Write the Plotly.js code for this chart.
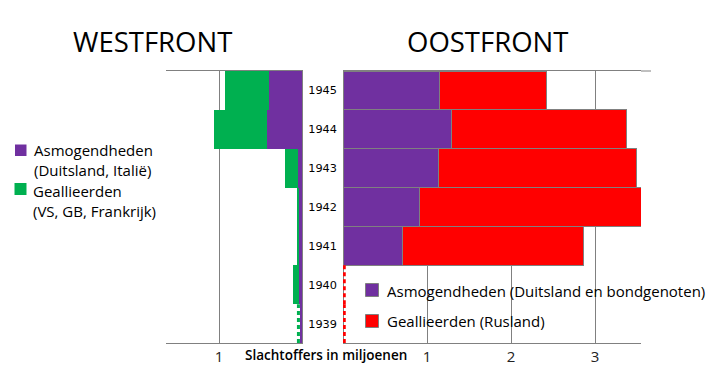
<!DOCTYPE html>
<html>
<head>
<meta charset="utf-8">
<script src="https://cdn.plot.ly/plotly-3.0.1.min.js"></script>
<style>html,body{margin:0;padding:0;background:#fff;}#chart{width:719px;height:376px;}</style>
</head>
<body>
<div id="chart"></div>
<script>
// ---- data (casualties in millions) ----
const years = [1939, 1940, 1941, 1942, 1943, 1944, 1945];
const westAxis   = [0.025, 0.035, 0.035, 0.035, 0.05, 0.42, 0.40];
const westAllies = [0,     0.075, 0.025, 0.025, 0.15, 0.64, 0.53];
const eastAxis   = [0, 0, 0.71, 0.91, 1.14, 1.29, 1.15];
const eastAllies = [0, 0, 2.15, 2.65, 2.35, 2.08, 1.27];
// very small / uncertain values shown as dashed lines
const westAlliesDashedYears = [1939];
const westAlliesDashedValue = [0.018];
const eastAlliesDashedYears = [1939, 1940];
const eastAlliesDashedValue = [0.015, 0.015];

const westTickVals = [1];
const eastTickVals = [1, 2, 3];
const titleWest = "WESTFRONT";
const titleEast = "OOSTFRONT";
const xTitle = "Slachtoffers in miljoenen";
const legWestAxis = "Asmogendheden<br>(Duitsland, Italië)";
const legWestAllies = "Geallieerden<br>(VS, GB, Frankrijk)";
const legEastAxis = "Asmogendheden (Duitsland en bondgenoten)";
const legEastAllies = "Geallieerden (Rusland)";

// ---- styles ----
const PURPLE = "#7030a0", GREEN = "#00b050", RED = "#ff0000", GRAY = "#808080";
const W = 719, H = 376;
const px = x => x / W, py = y => 1 - y / H;
const FONT = "Open Sans, sans-serif";

function dashedSegments(dYears, dVals, baseArr) {
  const xs = [], ys = [];
  dYears.forEach((yr, k) => {
    const i = years.indexOf(yr);
    const xv = (baseArr ? baseArr[i] : 0) + dVals[k];
    xs.push(xv, xv, null);
    ys.push(yr - 0.5, yr + 0.5, null);
  });
  return {xs, ys};
}
const wd = dashedSegments(westAlliesDashedYears, westAlliesDashedValue, westAxis);
const ed = dashedSegments(eastAlliesDashedYears, eastAlliesDashedValue, null);

const traces = [
  {type: "bar", orientation: "h", x: westAxis, y: years, xaxis: "x", yaxis: "y",
   marker: {color: PURPLE, line: {width: 0}}, hoverinfo: "x+y"},
  {type: "bar", orientation: "h", x: westAllies, y: years, xaxis: "x", yaxis: "y",
   marker: {color: GREEN, line: {width: 0}}, hoverinfo: "x+y"},
  {type: "bar", orientation: "h", x: eastAxis, y: years, xaxis: "x2", yaxis: "y2",
   marker: {color: PURPLE, line: {width: 1, color: GRAY}}, hoverinfo: "x+y"},
  {type: "bar", orientation: "h", x: eastAllies, y: years, xaxis: "x2", yaxis: "y2",
   marker: {color: RED, line: {width: 1, color: GRAY}}, hoverinfo: "x+y"},
  {type: "scatter", mode: "lines", x: wd.xs, y: wd.ys, xaxis: "x", yaxis: "y",
   line: {color: GREEN, width: 3, dash: "4px,3px"}, hoverinfo: "skip"},
  {type: "scatter", mode: "lines", x: ed.xs, y: ed.ys, xaxis: "x2", yaxis: "y2",
   line: {color: RED, width: 3, dash: "4px,3px"}, hoverinfo: "skip"}
];

const yDom = [py(343), py(71)];
const yRange = [years[0] - 0.5, years[years.length - 1] + 0.5];
const tickFont = {family: FONT, size: 15, color: "#222"};

const layout = {
  width: W, height: H,
  margin: {l: 0, r: 0, t: 0, b: 0},
  paper_bgcolor: "#fff", plot_bgcolor: "rgba(0,0,0,0)",
  showlegend: false,
  barmode: "stack", bargap: 0,
  font: {family: FONT, color: "#000"},
  xaxis: {domain: [px(166), px(302)], range: [(302 - 166) / 83, 0], anchor: "y",
          tickvals: westTickVals, showgrid: true, gridcolor: GRAY, gridwidth: 1,
          zeroline: false, showline: true, mirror: true, linecolor: GRAY, linewidth: 1,
          ticks: "", tickfont: tickFont, fixedrange: true},
  yaxis: {domain: yDom, range: yRange, anchor: "x", side: "right",
          tickvals: years, ticktext: years.map(String), ticks: "", ticklabelstandoff: 3,
          tickfont: {family: "DejaVu Sans, sans-serif", size: 11.3, color: "#000"},
          showgrid: false, zeroline: false, showline: true, linecolor: GRAY, linewidth: 1,
          fixedrange: true},
  xaxis2: {domain: [px(343), px(641)], range: [0, (641 - 343) / 84], anchor: "y2",
          tickvals: eastTickVals, showgrid: true, gridcolor: GRAY, gridwidth: 1,
          zeroline: false, showline: true, mirror: true, linecolor: GRAY, linewidth: 1,
          ticks: "", tickfont: tickFont, fixedrange: true},
  yaxis2: {domain: yDom, range: yRange, anchor: "x2", showticklabels: false,
          showgrid: false, zeroline: false, showline: false, fixedrange: true},
  shapes: [
    // top border of right panel extends a bit further
    {type: "line", xref: "paper", yref: "paper", x0: px(641), x1: px(651), y0: py(71), y1: py(71),
     line: {color: GRAY, width: 1}},
    // legend swatches
    {type: "rect", xref: "paper", yref: "paper", x0: px(15), x1: px(26.5), y0: py(156), y1: py(144.5),
     fillcolor: PURPLE, line: {width: 0}},
    {type: "rect", xref: "paper", yref: "paper", x0: px(14.5), x1: px(26.5), y0: py(195), y1: py(183),
     fillcolor: GREEN, line: {width: 0}},
    {type: "rect", xref: "paper", yref: "paper", x0: px(365.5), x1: px(378.5), y0: py(296.5), y1: py(283.5),
     fillcolor: PURPLE, line: {width: 1, color: GRAY}},
    {type: "rect", xref: "paper", yref: "paper", x0: px(365.5), x1: px(378.5), y0: py(327.5), y1: py(314.5),
     fillcolor: RED, line: {width: 1, color: GRAY}}
  ],
  annotations: [
    {text: titleWest, xref: "paper", yref: "paper", x: px(152), y: py(41), xanchor: "center", yanchor: "middle",
     showarrow: false, font: {family: FONT, size: 27.5, color: "#000"}},
    {text: titleEast, xref: "paper", yref: "paper", x: px(488), y: py(41), xanchor: "center", yanchor: "middle",
     showarrow: false, font: {family: FONT, size: 27.5, color: "#000"}},
    {text: xTitle, xref: "paper", yref: "paper", x: px(326), y: py(355), xanchor: "center", yanchor: "middle",
     showarrow: false, font: {family: FONT, size: 13.5, color: "#000", weight: 600}},
    {text: legWestAxis, xref: "paper", yref: "paper", x: px(32), y: py(159.5), xanchor: "left", yanchor: "middle",
     align: "left", showarrow: false, font: {family: FONT, size: 15, color: "#000"}},
    {text: legWestAllies, xref: "paper", yref: "paper", x: px(31), y: py(200.5), xanchor: "left", yanchor: "middle",
     align: "left", showarrow: false, font: {family: FONT, size: 15, color: "#000"}},
    {text: legEastAxis, xref: "paper", yref: "paper", x: px(385), y: py(290.5), xanchor: "left", yanchor: "middle",
     align: "left", showarrow: false, font: {family: FONT, size: 15, color: "#000"}},
    {text: legEastAllies, xref: "paper", yref: "paper", x: px(385), y: py(320.5), xanchor: "left", yanchor: "middle",
     align: "left", showarrow: false, font: {family: FONT, size: 15, color: "#000"}}
  ]
};

Plotly.newPlot("chart", traces, layout, {displayModeBar: false, staticPlot: true});
</script>
</body>
</html>
